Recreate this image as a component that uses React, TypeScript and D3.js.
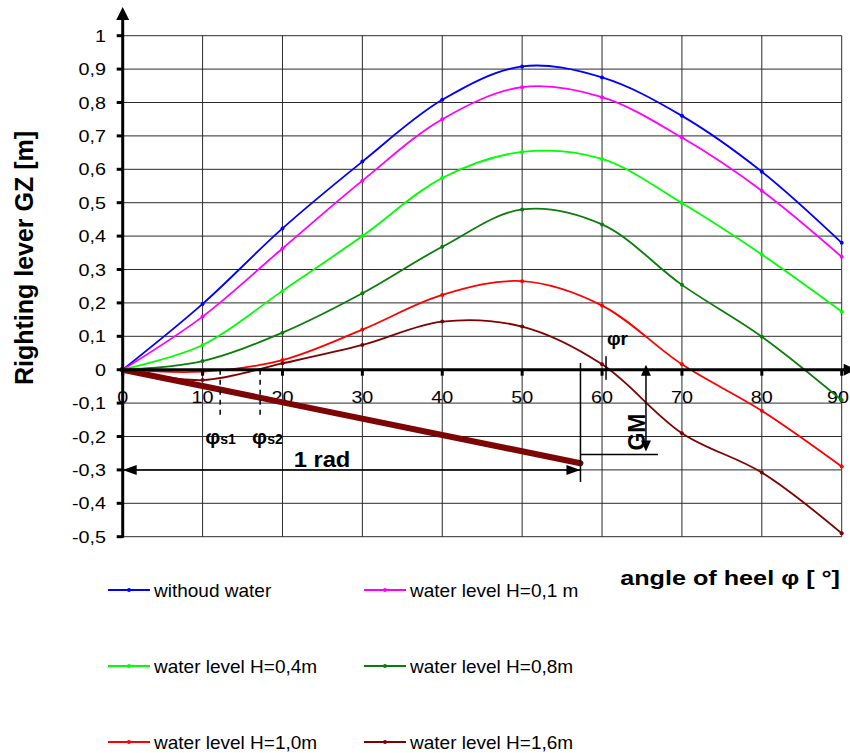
import React from 'react'
import * as d3 from 'd3'

// angle of heel, degrees
const angles = [0, 10, 20, 30, 40, 50, 60, 70, 80, 90]

// righting lever GZ [m] for each water level
const gzNoWater = [0, 0.197, 0.423, 0.623, 0.808, 0.908, 0.875, 0.76, 0.593, 0.38]
const gzH01 = [0, 0.159, 0.363, 0.566, 0.75, 0.846, 0.816, 0.695, 0.536, 0.338]
const gzH04 = [0, 0.074, 0.236, 0.4, 0.574, 0.652, 0.631, 0.499, 0.345, 0.174]
const gzH08 = [0, 0.026, 0.111, 0.229, 0.368, 0.48, 0.435, 0.254, 0.099, -0.091]
const gzH10 = [0, -0.006, 0.029, 0.12, 0.224, 0.265, 0.192, 0.016, -0.123, -0.29]
const gzH16 = [0, -0.031, 0.019, 0.074, 0.144, 0.129, 0.016, -0.19, -0.308, -0.49]

const seriesNames = [
  'withoud water',
  'water level H=0,1 m',
  'water level H=0,4m',
  'water level H=0,8m',
  'water level H=1,0m',
  'water level H=1,6m',
]
const seriesColors = ['#0000ff', '#ff00ff', '#00ff00', '#0a7d0a', '#ff0000', '#800000']
const seriesValues = [gzNoWater, gzH01, gzH04, gzH08, gzH10, gzH16]

const xTicks = [0, 10, 20, 30, 40, 50, 60, 70, 80, 90]
const yTicks = [1, 0.9, 0.8, 0.7, 0.6, 0.5, 0.4, 0.3, 0.2, 0.1, 0, -0.1, -0.2, -0.3, -0.4, -0.5]

// annotation values (data units)
const oneRad = 57.3
const gmLineEnd = -0.28
const phiS1 = 12.2
const phiS2 = 17.2
const phiR = 60.5
const gmAngle = 65.5
const gmValue = -0.245

const W = 850
const H = 753
const FONT = '"Liberation Sans", Arial, sans-serif'
const STRETCH = 1.22

const x = d3.scaleLinear().domain([0, 90]).range([122.7, 841.7])
const y = d3.scaleLinear().domain([-0.5, 1]).range([536.7, 35.7])

const fmt = v => (Math.abs(v) < 1e-9 ? '0' : String(Math.round(v * 10) / 10).replace('.', ','))

// horizontally stretched text, like the original rendering
function SText({ x: tx, y: ty, anchor = 'start', size, bold, sx = STRETCH, children }) {
  return (
    <text
      transform={`translate(${tx},${ty}) scale(${sx},1)`}
      textAnchor={anchor}
      fontSize={size}
      fontWeight={bold ? 'bold' : 'normal'}
      fontFamily={FONT}
      fill="#000"
    >
      {children}
    </text>
  )
}

function App() {
  const line = d3
    .line()
    .x(d => x(d[0]))
    .y(d => y(d[1]))
    .curve(d3.curveCatmullRom.alpha(0.5))

  const y0 = y(0)
  const legendRows = [590, 666, 742]
  const legendCols = [108, 364]

  return (
    <svg width={W} height={H} style={{ position: 'absolute', left: 0, top: 0, background: '#fff' }}>
      <defs>
        <clipPath id="plot-clip">
          <rect x={x(0)} y={0} width={W - x(0)} height={H} />
        </clipPath>
      </defs>

      {/* grid */}
      <g stroke="#2a2a2a" strokeWidth={1}>
        {xTicks.slice(1).map(t => (
          <line key={'gx' + t} x1={x(t)} x2={x(t)} y1={y(1)} y2={y(-0.5)} />
        ))}
        {yTicks.map(t => (
          <line key={'gy' + t} x1={x(0)} x2={x(90)} y1={y(t)} y2={y(t)} />
        ))}
      </g>

      {/* y tick labels */}
      {yTicks.map(t => (
        <SText key={'yl' + t} x={106} y={y(t) + 6} anchor="end" size={16.2}>
          {fmt(t)}
        </SText>
      ))}

      {/* x tick labels */}
      {xTicks.map(t => (
        <SText
          key={'xl' + t}
          x={t === 90 ? 849 : x(t)}
          y={403}
          anchor={t === 90 ? 'end' : 'middle'}
          size={16.2}
        >
          {t}
        </SText>
      ))}

      {/* 1 rad slope line */}
      <line
        x1={x(0)}
        y1={y(0)}
        x2={x(oneRad)}
        y2={y(gmLineEnd)}
        stroke="#7d0505"
        strokeWidth={6}
        strokeLinecap="round"
      />

      {/* curves */}
      <g clipPath="url(#plot-clip)">
        {seriesValues.map((vals, i) => {
          const pts = angles.map((a, j) => [a, vals[j]])
          return (
            <g key={seriesNames[i]}>
              <path d={line(pts)} fill="none" stroke={seriesColors[i]} strokeWidth={1.8} />
              {pts.map(p => (
                <circle key={p[0]} cx={x(p[0])} cy={y(p[1])} r={2} fill={seriesColors[i]} />
              ))}
            </g>
          )
        })}
      </g>

      {/* axes */}
      <line x1={x(0)} x2={x(0)} y1={16} y2={y(-0.5) + 1} stroke="#000" strokeWidth={3} />
      <path d={`M${x(0)},7 L${x(0) - 6.5},20 L${x(0) + 6.5},20 Z`} fill="#000" />
      <line x1={x(0)} x2={W} y1={y0} y2={y0} stroke="#000" strokeWidth={3} />
      <path d={`M${x(90) + 14},${y0} L${x(90) + 2},${y0 - 6} L${x(90) + 2},${y0 + 6} Z`} fill="#000" />
      {yTicks.map(t => (
        <rect key={'yt' + t} x={x(0) - 6} y={y(t) - 1.5} width={6} height={3} fill="#000" />
      ))}
      {xTicks.map(t => (
        <rect key={'xt' + t} x={x(t) - 1.5} y={y0} width={3} height={6} fill="#000" />
      ))}

      {/* phi s1 / s2 dashed markers */}
      {[phiS1, phiS2].map(a => (
        <line
          key={'ps' + a}
          x1={x(a)}
          x2={x(a)}
          y1={y0}
          y2={y(-0.15)}
          stroke="#000"
          strokeWidth={1.5}
          strokeDasharray="5,5"
        />
      ))}
      <text x={x(phiS1) - 15} y={444} fontFamily={FONT} fontWeight="bold" fontSize={21}>
        φ<tspan fontSize={14}>s1</tspan>
      </text>
      <text x={x(phiS2) - 8} y={444} fontFamily={FONT} fontWeight="bold" fontSize={21}>
        φ<tspan fontSize={14}>s2</tspan>
      </text>

      {/* phi r */}
      <line x1={x(phiR)} x2={x(phiR)} y1={y(0.04)} y2={y(-0.03)} stroke="#000" strokeWidth={1.5} />
      <text x={x(phiR) + 1} y={345} fontFamily={FONT} fontWeight="bold" fontSize={19}>
        φr
      </text>

      {/* 1 rad dimension */}
      <line x1={x(oneRad)} x2={x(oneRad)} y1={y(0.02)} y2={y(-0.336)} stroke="#000" strokeWidth={1.5} />
      <line x1={x(0)} x2={x(oneRad)} y1={y(-0.3)} y2={y(-0.3)} stroke="#000" strokeWidth={1.5} />
      <path
        d={`M${x(0)},${y(-0.3)} L${x(0) + 14},${y(-0.3) - 5} L${x(0) + 14},${y(-0.3) + 5} Z`}
        fill="#000"
      />
      <path
        d={`M${x(oneRad)},${y(-0.3)} L${x(oneRad) - 14},${y(-0.3) - 5} L${x(oneRad) - 14},${y(-0.3) + 5} Z`}
        fill="#000"
      />
      <SText x={322} y={467} anchor="middle" size={22} bold sx={1.08}>
        1 rad
      </SText>

      {/* GM dimension */}
      <line x1={x(oneRad)} x2={x(gmAngle) + 12} y1={y(gmValue) + 3} y2={y(gmValue) + 3} stroke="#000" strokeWidth={1.5} />
      <line x1={x(gmAngle)} x2={x(gmAngle)} y1={y0 + 4} y2={y(gmValue) - 6} stroke="#000" strokeWidth={1.5} />
      <path d={`M${x(gmAngle)},${y0 - 5} L${x(gmAngle) - 5},${y0 + 6} L${x(gmAngle) + 5},${y0 + 6} Z`} fill="#000" />
      <path
        d={`M${x(gmAngle)},${y(gmValue)} L${x(gmAngle) - 5},${y(gmValue) - 11} L${x(gmAngle) + 5},${y(gmValue) - 11} Z`}
        fill="#000"
      />
      <text
        transform={`translate(${x(gmAngle) - 1},432) rotate(-90)`}
        textAnchor="middle"
        fontFamily={FONT}
        fontWeight="bold"
        fontSize={23}
      >
        GM
      </text>

      {/* axis titles */}
      <text
        transform="translate(33,258) rotate(-90)"
        textAnchor="middle"
        fontFamily={FONT}
        fontWeight="bold"
        fontSize={25}
      >
        Righting lever GZ [m]
      </text>
      <SText x={840} y={585} anchor="end" size={21} bold sx={1.2}>
        angle of heel φ [ °]
      </SText>

      {/* legend */}
      {seriesNames.map((name, i) => {
        const lx = legendCols[i % 2]
        const ly = legendRows[Math.floor(i / 2)]
        return (
          <g key={'lg' + name}>
            <line x1={lx} x2={lx + 42} y1={ly} y2={ly} stroke={seriesColors[i]} strokeWidth={2} />
            <circle cx={lx + 21} cy={ly} r={2} fill={seriesColors[i]} />
            <text x={lx + 46} y={ly + 7} fontFamily={FONT} fontSize={19}>
              {name}
            </text>
          </g>
        )
      })}
    </svg>
  )
}

export default App
